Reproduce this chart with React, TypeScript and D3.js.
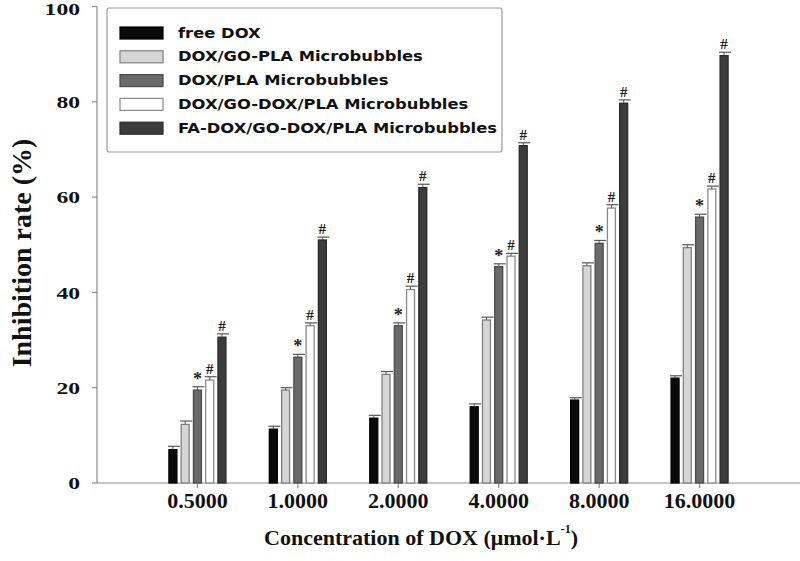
import React from "react";
import * as d3 from "d3";

const categories = ["0.5000", "1.0000", "2.0000", "4.0000", "8.0000", "16.0000"];
const seriesNames = [
  "free DOX",
  "DOX/GO-PLA Microbubbles",
  "DOX/PLA Microbubbles",
  "DOX/GO-DOX/PLA Microbubbles",
  "FA-DOX/GO-DOX/PLA Microbubbles",
];
const freeDOX = [7.0, 11.3, 13.6, 16.0, 17.4, 22.0];
const goPLA = [12.3, 19.5, 22.8, 34.2, 45.6, 49.4];
const plaMB = [19.5, 26.4, 33.0, 45.4, 50.3, 55.8];
const goDoxPla = [21.6, 33.0, 40.6, 47.6, 57.7, 61.7];
const faGoDoxPla = [30.6, 51.0, 62.0, 70.8, 79.7, 89.7];
const freeDOXErr = [0.7, 0.6, 0.6, 0.6, 0.5, 0.5];
const goPLAErr = [0.7, 0.5, 0.6, 0.6, 0.6, 0.6];
const plaMBErr = [0.7, 0.6, 0.6, 0.6, 0.6, 0.6];
const goDoxPlaErr = [0.7, 0.6, 0.7, 0.6, 0.7, 0.6];
const faGoDoxPlaErr = [0.7, 0.6, 0.7, 0.6, 0.7, 0.7];
const markers = ["", "", "*", "#", "#"];
const yTicks = [0, 20, 40, 60, 80, 100];

const seriesValues = [freeDOX, goPLA, plaMB, goDoxPla, faGoDoxPla];
const seriesErrs = [freeDOXErr, goPLAErr, plaMBErr, goDoxPlaErr, faGoDoxPlaErr];

const fills = ["#0a0a0a", "#d6d6d6", "#6a6a6a", "#ffffff", "#3c3c3c"];
const strokes = ["#000000", "#808080", "#4a4a4a", "#8a8a8a", "#2a2a2a"];

export default function App() {
  const W = 800, H = 561;
  const x = d3.scaleLinear().domain([0, 7]).range([97, 800]);
  const y = d3.scaleLinear().domain([0, 100]).range([483, 6.5]);
  const inner = d3.scaleBand<number>().domain(d3.range(5)).range([-28.5, 28.5]).paddingInner(0.35);
  const bw = inner.bandwidth();
  const serif = "'Liberation Serif', 'Times New Roman', serif";
  const sans = "'DejaVu Sans', sans-serif";
  const axisColor = "#8c8c8c";

  return (
    <svg width={W} height={H} style={{ position: "absolute", left: 0, top: 0, background: "#fff" }}>
      {/* axes */}
      <line x1={x(0)} x2={x(0)} y1={y(100)} y2={y(0)} stroke={axisColor} strokeWidth={1.2} />
      <line x1={x(0)} x2={x(7)} y1={y(0)} y2={y(0)} stroke={axisColor} strokeWidth={1.2} />
      {yTicks.map((t) => (
        <g key={t}>
          <line x1={x(0) - 5} x2={x(0)} y1={y(t)} y2={y(t)} stroke={axisColor} strokeWidth={1.2} />
          <text
            transform={`translate(80,${Math.max(y(t), 9)}) scale(1.35,1)`}
            textAnchor="end"
            dominantBaseline="central"
            fontFamily={serif}
            fontWeight="bold"
            fontSize={17.5}
            fill="#111"
          >
            {t}
          </text>
        </g>
      ))}
      {categories.map((c, i) => (
        <g key={c}>
          <line x1={x(i + 1)} x2={x(i + 1)} y1={y(0)} y2={y(0) + 5} stroke={axisColor} strokeWidth={1.2} />
          <text
            x={x(i + 1)}
            y={y(0) + 17}
            textAnchor="middle"
            dominantBaseline="central"
            fontFamily={serif}
            fontWeight="bold"
            fontSize={22}
            fill="#111"
          >
            {c}
          </text>
        </g>
      ))}
      {/* bars */}
      {seriesValues.map((vals, s) =>
        vals.map((v, i) => {
          const cx = x(i + 1) + (inner(s) as number) + bw / 2;
          const top = y(v);
          const et = y(v + seriesErrs[s][i]);
          return (
            <g key={`${s}-${i}`}>
              <rect
                x={cx - bw / 2}
                y={top}
                width={bw}
                height={y(0) - top}
                fill={fills[s]}
                stroke={strokes[s]}
                strokeWidth={1.3}
              />
              <line x1={cx} x2={cx} y1={top} y2={et} stroke="#555" strokeWidth={1} />
              <line x1={cx - 5} x2={cx + 7} y1={et} y2={et} stroke="#555" strokeWidth={1.2} />
              {markers[s] && (
                <text
                  x={cx}
                  y={et - 8}
                  textAnchor="middle"
                  dominantBaseline="central"
                  fontFamily={serif}
                  fontWeight="bold"
                  fontSize={markers[s] === "*" ? 18 : 15}
                  fill="#222"
                >
                  {markers[s]}
                </text>
              )}
            </g>
          );
        })
      )}
      {/* legend */}
      <rect x={107} y={8} width={395} height={144} rx={2} fill="#fff" fillOpacity={0.9} stroke="#9a9a9a" strokeWidth={1.2} />
      {seriesNames.map((n, s) => (
        <g key={n}>
          <rect x={120} y={27 + s * 23.8} width={43} height={12} fill={fills[s]} stroke={strokes[s]} strokeWidth={1.2} />
          <text
            transform={`translate(178,${33 + s * 23.8}) scale(1.17,1)`}
            dominantBaseline="central"
            fontFamily={sans}
            fontWeight="bold"
            fontSize={14}
            fill="#111"
          >
            {n}
          </text>
        </g>
      ))}
      {/* axis titles */}
      <text
        transform={`translate(21,253) rotate(-90)`}
        textAnchor="middle"
        dominantBaseline="central"
        fontFamily={serif}
        fontWeight="bold"
        fontSize={28}
        fill="#111"
      >
        Inhibition rate (%)
      </text>
      <text
        x={421}
        y={537}
        textAnchor="middle"
        dominantBaseline="central"
        fontFamily={serif}
        fontWeight="bold"
        fontSize={22}
        fill="#111"
      >
        Concentration of DOX (μmol·L
        <tspan fontSize={12} dy={-8}>-1</tspan>
        <tspan dy={8}>)</tspan>
      </text>
    </svg>
  );
}
